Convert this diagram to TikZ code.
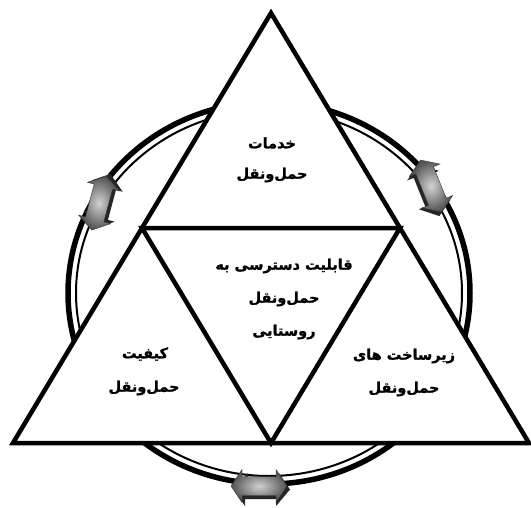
\documentclass[tikz,border=0pt]{standalone}
\usepackage{fontspec}
\newfontfamily\arabicfont[Script=Arabic, BoldFeatures={FakeBold=1.2}]{DejaVu Sans}
\TeXXeTstate=1
\usetikzlibrary{calc}
\tikzset{
  lbl/.style={font=\arabicfont\bfseries\fontsize{14.5}{17}\selectfont, inner sep=0pt},
  ringA/.style={line width=5.5pt},
  ringB/.style={line width=2pt},
  tri/.style={line width=4.5pt, line join=miter, fill=white},
  inner/.style={line width=4.5pt, line join=miter},
  arrface/.style={draw=gray!40!black, line width=0.4pt, shading=radial,
    inner color=gray!35, outer color=gray!65!black},
  arrshade/.style={fill=gray!30!black, draw=none},
  dblarr/.pic={
    \path[arrshade] (-25,3.5) -- (-14,20) -- (-14,13) -- (17,13) -- (17,20) -- (31,3.5)
      -- (20,-13) -- (20,-6) -- (-11,-6) -- (-11,-13) -- cycle;
    \path[arrface] (-28,0) -- (-17,16.5) -- (-17,9.5) -- (17,9.5) -- (17,16.5) -- (28,0)
      -- (17,-16.5) -- (17,-9.5) -- (-17,-9.5) -- (-17,-16.5) -- cycle;
  }
}
\begin{document}
\begin{tikzpicture}[x=1pt,y=-1pt]
\useasboundingbox (0,0) rectangle (531,507);
\fill[white] (0,0) rectangle (531,507);
% ring
\draw[ringA] (269,293) ellipse [x radius=201, y radius=191];
\draw[ringB] (269,293) ellipse [x radius=193, y radius=183];
% arrows
\pic[rotate=75] (arrL) at (99,203) {dblarr};
\pic[rotate=-68] (arrR) at (431,186) {dblarr};
\pic (arrB) at (259,486) {dblarr};
% triangles
\coordinate (A) at (271,13);
\coordinate (B) at (13,443);
\coordinate (C) at (529,443);
\coordinate (D) at ($(A)!0.5!(B)$);
\coordinate (E) at ($(A)!0.5!(C)$);
\coordinate (F) at ($(B)!0.5!(C)$);
\draw[tri] (A) -- (B) -- (C) -- cycle;
\draw[inner] (D) -- (E) -- (F) -- cycle;
% labels
\node[lbl] (t1) at (272,143) {\beginR خدمات\endR};
\node[lbl] (t2) at (272,175) {\beginR حمل‌ونقل\endR};
\node[lbl] (c1) at (284,266) {\beginR قابلیت دسترسی به\endR};
\node[lbl] (c2) at (284,299) {\beginR حمل‌ونقل\endR};
\node[lbl] (c3) at (284,332) {\beginR روستایی\endR};
\node[lbl] (l1) at (145,354) {\beginR کیفیت\endR};
\node[lbl] (l2) at (144,388) {\beginR حمل‌ونقل\endR};
\node[lbl] (r1) at (404,356) {\beginR زیرساخت های\endR};
\node[lbl] (r2) at (404,389) {\beginR حمل‌ونقل\endR};
\end{tikzpicture}
\end{document}
